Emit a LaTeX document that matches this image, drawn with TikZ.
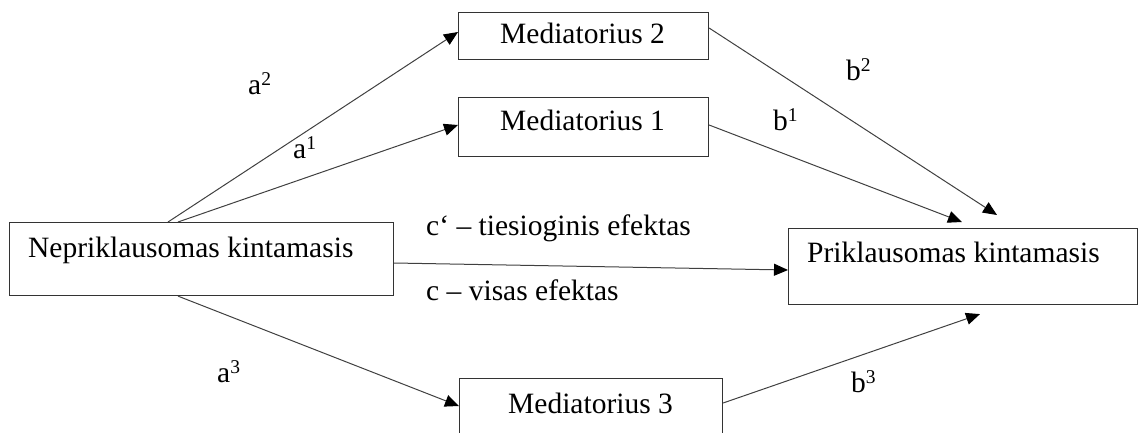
\documentclass[tikz,border=0pt]{standalone}
\usepackage{fontspec}
\setmainfont{Liberation Serif}
\usetikzlibrary{arrows.meta}
\newcommand\supr[1]{\raisebox{9pt}{\fontsize{19.5}{19.5}\selectfont #1}}
\begin{document}
\begin{tikzpicture}[x=1pt,y=-1pt,
  box/.style={draw=black!80,line width=1.1pt,rectangle,inner sep=0pt,anchor=north west},
  txt/.style={inner sep=0pt,anchor=base west,font=\fontsize{29.5}{34}\selectfont},
  conn/.style={draw=black!75,line width=1pt,-{Triangle[length=14pt,width=12pt,color=black]}}]
\useasboundingbox (0,0) rectangle (1138,432);
\clip (0,0) rectangle (1138,432);
\node[box,minimum width=384pt,minimum height=73pt] (nep) at (9,222) {};
\node[box,minimum width=250pt,minimum height=47pt] (med2) at (458,12) {};
\node[box,minimum width=250pt,minimum height=59pt] (med1) at (458,97) {};
\node[box,minimum width=263pt,minimum height=62pt] (med3) at (459,378) {};
\node[box,minimum width=349pt,minimum height=76pt] (prik) at (788,228) {};
\node[txt] (tnep) at (28,257) {Nepriklausomas kintamasis};
\node[txt] (tmed2) at (500,43) {Mediatorius 2};
\node[txt] (tmed1) at (500,130) {Mediatorius 1};
\node[txt] (tmed3) at (508,413) {Mediatorius 3};
\node[txt] (tprik) at (807,262) {Priklausomas kintamasis};
\node[txt] (la2) at (248,94) {a\supr{2}};
\node[txt] (la1) at (293,158) {a\supr{1}};
\node[txt] (la3) at (217,382) {a\supr{3}};
\node[txt] (lb2) at (846,80) {b\supr{2}};
\node[txt] (lb1) at (773,130) {b\supr{1}};
\node[txt] (lb3) at (851,392) {b\supr{3}};
\node[txt] (lcp) at (426,235) {c‘ – tiesioginis efektas};
\node[txt] (lc) at (426,300) {c – visas efektas};
\draw[conn] ([xshift=159pt]nep.north west) -- ([yshift=-20pt]med2.north west);
\draw[conn] ([xshift=169pt]nep.north west) -- ([yshift=-28pt]med1.north west);
\draw[conn] ([yshift=-41pt]nep.north east) -- ([yshift=-42pt]prik.north west);
\draw[conn] ([xshift=169pt]nep.south west) -- ([yshift=-28pt]med3.north west);
\draw[conn] ([yshift=-16pt]med2.north east) -- ([xshift=209pt,yshift=13pt]prik.north west);
\draw[conn] ([yshift=-28pt]med1.north east) -- ([xshift=174pt,yshift=6pt]prik.north west);
\draw[conn] ([yshift=-25pt]med3.north east) -- ([xshift=192pt,yshift=-9pt]prik.south west);
\end{tikzpicture}
\end{document}
